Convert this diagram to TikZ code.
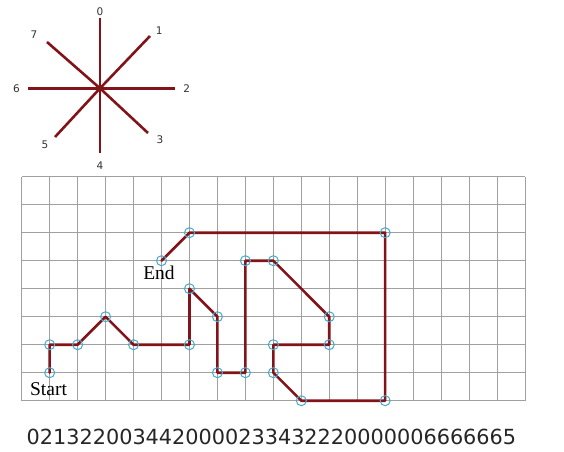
\documentclass[tikz,border=0pt]{standalone}
\usepackage{fontspec}
\setmainfont{Liberation Serif}
\newfontfamily\codefont{DejaVu Sans}
\definecolor{chainred}{RGB}{130,20,25}
\definecolor{vtxblue}{RGB}{70,170,205}
\definecolor{gridgray}{RGB}{160,160,160}
\tikzset{
  gridline/.style={draw=gridgray, line width=0.9pt},
  chainline/.style={draw=chainred, line width=2.6pt, line join=round, line cap=round},
  vtx/.style={circle, draw=vtxblue, line width=1pt, minimum size=10pt, inner sep=0pt},
  dirlabel/.style={font=\codefont\fontsize{10.5}{12}\selectfont, text=black!80, inner sep=0pt},
  tag/.style={font=\fontsize{19.5}{22}\selectfont, inner sep=0pt, anchor=base},
}
\begin{document}
\begin{tikzpicture}[x=1pt,y=-1pt]
\useasboundingbox[fill=white] (0,0) rectangle (564,451);
% compass
\coordinate (c) at (100,88.3);
\coordinate (d0) at (100,18);
\coordinate (d1) at (150,36);
\coordinate (d2) at (175,88.3);
\coordinate (d3) at (148,133);
\coordinate (d4) at (100,153);
\coordinate (d5) at (55,137);
\coordinate (d6) at (28,88.3);
\coordinate (d7) at (47,42);
\foreach \k in {0,...,7} {\draw[chainline, line cap=butt] (c) -- (d\k);}
\node[dirlabel] (l0) at (100,11.5) {0};
\node[dirlabel] (l1) at (159.3,30.5) {1};
\node[dirlabel] (l2) at (186.7,88.3) {2};
\node[dirlabel] (l3) at (160,140) {3};
\node[dirlabel] (l4) at (100,166) {4};
\node[dirlabel] (l5) at (45,145) {5};
\node[dirlabel] (l6) at (16.5,89) {6};
\node[dirlabel] (l7) at (34,35) {7};
% grid
\begin{scope}[xshift=21.7pt, yshift=-400.7pt, x=27.96pt, y=28pt]
\draw[gridline, step=1] (0,0) grid (18,8);
\foreach \n/\p in {a/{1,1},b/{1,2},c2/{2,2},d/{3,3},e/{4,2},f/{6,2},g/{6,4},h/{7,3},i/{7,1},j/{8,1},k/{8,5},l/{9,5},m/{11,3},n/{11,2},o/{9,2},p/{9,1},q/{10,0},r/{13,0},s/{13,6},t/{6,6},u/{5,5}}
  {\coordinate (\n) at (\p);}
\draw[chainline] (a) -- (b) -- (c2) -- (d) -- (e) -- (f) -- (g) -- (h) -- (i) -- (j) -- (k) -- (l) -- (m) -- (n) -- (o) -- (p) -- (q) -- (r) -- (s) -- (t) -- (u);
\foreach \n in {a,b,c2,d,e,f,g,h,i,j,k,l,m,n,o,p,q,r,s,t,u}
  {\node[vtx] (v\n) at (\n) {};}
\end{scope}
\node[tag] (start) at (48.5,395) {Start};
\node[tag] (end) at (159,279) {End};
\node[font=\codefont\fontsize{20.8}{24}\selectfont, text=black!85, inner sep=0pt] (code) at (271.5,437) {0213220034420000233432220000006666665};
\end{tikzpicture}
\end{document}
